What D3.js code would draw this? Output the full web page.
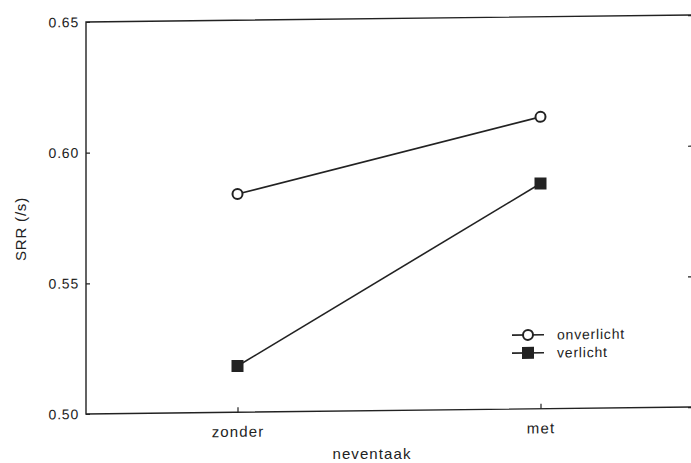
<!DOCTYPE html>
<html>
<head>
<meta charset="utf-8">
<script src="https://cdn.jsdelivr.net/npm/d3@7"></script>
<style>
    body { margin: 0; background: #fff; }
    svg text { font-family: "Liberation Sans", Arial, sans-serif; fill: #222; }
</style>
</head>
<body>
<svg class="chart" width="691" height="463"></svg>
<script>
// data
const categories = ['zonder', 'met']
const onverlicht = [0.5835, 0.6117]
const verlicht = [0.5177, 0.5862]
const yTicks = [0.50, 0.55, 0.60, 0.65]
const legendLabels = ['onverlicht', 'verlicht']

const plotLeft = 86
const plotW = 606
const plotTop = 22
const plotBottom = 414
const ink = '#222'

const svg = d3.select('.chart')

// the scan is slightly tilted, so skew the plot a bit
const g = svg.append('g')
    .attr('transform', `translate(${plotLeft},0) skewY(-0.66)`)

const x = d3.scalePoint().domain(categories).range([0, plotW]).padding(0.5)
const y = d3.scaleLinear().domain([0.50, 0.65]).range([plotBottom, plotTop])

// frame
g.append('rect')
    .attr('x', 0).attr('y', plotTop)
    .attr('width', plotW).attr('height', plotBottom - plotTop)
    .attr('fill', 'none').attr('stroke', ink).attr('stroke-width', 1.4)

// left axis, ticks inward
const yAxis = g.append('g')
    .call(d3.axisLeft(y).tickValues(yTicks).tickFormat(d3.format('.2f')).tickSizeInner(-4).tickSizeOuter(0).tickPadding(7))
yAxis.select('.domain').remove()
yAxis.selectAll('.tick line').attr('stroke', ink).attr('stroke-width', 1.2)
yAxis.selectAll('.tick text').attr('font-size', 14).attr('letter-spacing', 0.8).attr('fill', ink)

// right axis ticks
const yRight = g.append('g')
    .attr('transform', `translate(${plotW},0)`)
    .call(d3.axisRight(y).tickValues(yTicks).tickFormat('').tickSizeInner(-4).tickSizeOuter(0))
yRight.select('.domain').remove()
yRight.selectAll('.tick line').attr('stroke', ink).attr('stroke-width', 1.2)

// bottom axis
const xAxis = g.append('g')
    .attr('transform', `translate(0,${plotBottom})`)
    .call(d3.axisBottom(x).tickSizeInner(-5).tickSizeOuter(0).tickPadding(14))
xAxis.select('.domain').remove()
xAxis.selectAll('.tick line').attr('stroke', ink).attr('stroke-width', 1.2)
xAxis.selectAll('.tick text').attr('font-size', 15).attr('letter-spacing', 1.1).attr('fill', ink)

// series
const line = d3.line().x((d, i) => x(categories[i])).y(d => y(d))

g.append('path').datum(onverlicht)
    .attr('d', line).attr('fill', 'none').attr('stroke', ink).attr('stroke-width', 1.6)
g.append('path').datum(verlicht)
    .attr('d', line).attr('fill', 'none').attr('stroke', ink).attr('stroke-width', 1.6)

g.selectAll('.pt-open')
    .data(onverlicht)
    .enter()
    .append('circle')
    .attr('cx', (d, i) => x(categories[i]))
    .attr('cy', d => y(d))
    .attr('r', 5)
    .attr('fill', '#fff').attr('stroke', ink).attr('stroke-width', 2)

g.selectAll('.pt-fill')
    .data(verlicht)
    .enter()
    .append('rect')
    .attr('x', (d, i) => x(categories[i]) - 6)
    .attr('y', d => y(d) - 6)
    .attr('width', 12).attr('height', 12)
    .attr('fill', ink)

// legend
const legend = g.append('g').attr('transform', 'translate(442,340)')
legendLabels.forEach((lab, i) => {
    const row = legend.append('g').attr('transform', `translate(0,${i * 18})`)
    row.append('line').attr('x1', -16).attr('x2', 16).attr('y1', 0).attr('y2', 0)
        .attr('stroke', ink).attr('stroke-width', 1.6)
    if (i === 0) {
        row.append('circle').attr('r', 5).attr('fill', '#fff').attr('stroke', ink).attr('stroke-width', 2)
    } else {
        row.append('rect').attr('x', -6).attr('y', -6).attr('width', 12).attr('height', 12).attr('fill', ink)
    }
    row.append('text').attr('x', 29).attr('dy', '0.35em')
        .attr('font-size', 14).attr('letter-spacing', 0.8).text(lab)
})

// axis titles
svg.append('text')
    .attr('x', 372).attr('y', 459)
    .attr('text-anchor', 'middle')
    .attr('font-size', 15).attr('letter-spacing', 1.1)
    .text('neventaak')

svg.append('text')
    .attr('transform', 'translate(26,229) rotate(-90)')
    .attr('text-anchor', 'middle')
    .attr('font-size', 15).attr('letter-spacing', 0.8)
    .text('SRR (/s)')
</script>
</body>
</html>
